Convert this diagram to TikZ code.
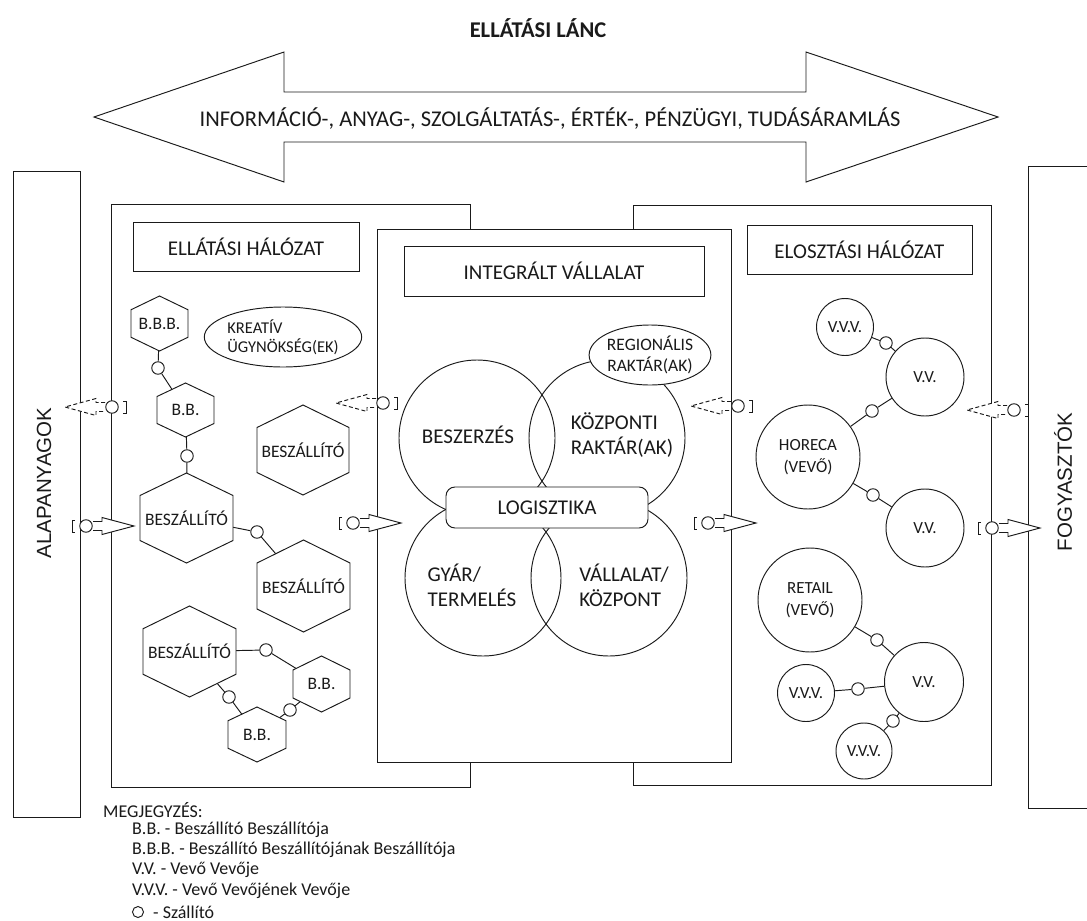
\documentclass[tikz,border=0pt]{standalone}
\usepackage{fontspec}
\setmainfont{Carlito}
\newfontfamily\arialf{Liberation Sans}
\usetikzlibrary{shapes.geometric}
\pgfdeclarelayer{paper}
\pgfdeclarelayer{back}
\pgfsetlayers{paper,back,main}
\definecolor{ink}{HTML}{1A1A1A}
\newcommand{\fsz}[2]{\fontsize{#1}{#2}\selectfont}
\tikzset{
  line/.style={draw=ink, line width=0.95pt},
  lbl/.style={text=ink, font=\fsz{21}{25}, inner sep=0pt},
  hexlbl/.style={text=ink, font=\fsz{17.5}{20}, inner sep=0pt},
  szall/.style={circle, line, fill=white, minimum size=12.5pt, inner sep=0pt},
  vcirc/.style={circle, line, fill=white, inner sep=0pt, text=ink, font=\fsz{17}{22}, align=center},
  venn/.style={circle, line, inner sep=0pt, minimum size=156pt},
  headbox/.style={rectangle, line, text=ink, font=\fsz{21}{25}, inner sep=0pt},
  legend/.style={anchor=west, text=ink, font=\fsz{18}{21}, inner sep=0pt},
  sidelbl/.style={text=ink, font=\arialf\fsz{20.5}{24}, rotate=90, inner sep=0pt},
  flowdash/.style={line, dash pattern=on 4pt off 2.5pt, fill=white},
}
% hexagon: name, x, y, w, h, text
\newcommand{\hexa}[6]{%
  \filldraw[line, fill=white] ({#2},{#3-#5/2}) -- ({#2+#4/2},{#3-#5/4}) -- ({#2+#4/2},{#3+#5/4}) -- ({#2},{#3+#5/2}) -- ({#2-#4/2},{#3+#5/4}) -- ({#2-#4/2},{#3-#5/4}) -- cycle;
  \node[hexlbl] (#1) at (#2,#3) {#6};}
% dashed flow: arrow to the left, carrier circle, closing bracket
\newcommand{\dsym}[3]{%
  \filldraw[flowdash] ({#2-7},{#3-4.5}) -- ({#2-16},{#3-4.5}) -- ({#2-16},{#3-8.5}) -- ({#2-47},{#3}) -- ({#2-16},{#3+8.5}) -- ({#2-16},{#3+4.5}) -- ({#2-7},{#3+4.5});
  \node[szall] (#1) at (#2,#3) {};
  \draw[line] ({#2+11},{#3-6}) -- ({#2+14},{#3-6}) -- ({#2+14},{#3+6}) -- ({#2+11},{#3+6});}
% solid flow: opening bracket, carrier circle, arrow to the right
\newcommand{\ssym}[3]{%
  \draw[line] ({#2-11},{#3-6}) -- ({#2-14},{#3-6}) -- ({#2-14},{#3+6}) -- ({#2-11},{#3+6});
  \node[szall] (#1) at (#2,#3) {};
  \filldraw[line, fill=white] ({#2+7},{#3-4.5}) -- ({#2+16},{#3-4.5}) -- ({#2+16},{#3-8.5}) -- ({#2+48},{#3}) -- ({#2+16},{#3+8.5}) -- ({#2+16},{#3+4.5}) -- ({#2+7},{#3+4.5});}
\begin{document}
\begin{tikzpicture}[x=1pt,y=-1pt]
\useasboundingbox (0,0) rectangle (1087,921);
\begin{pgfonlayer}{paper}
  \fill[white] (0,0) rectangle (1087,921);
\end{pgfonlayer}

% title and big double arrow
\node[text=ink, font=\bfseries\fsz{22.5}{26}] (title) at (538,28) {ELLÁTÁSI LÁNC};
\draw[line, fill=white] (94,117) -- (284,52) -- (284,92) -- (806,92) -- (806,52) -- (998,117) -- (806,182) -- (806,142) -- (284,142) -- (284,182) -- cycle;
\node[lbl, font=\fsz{22.5}{26}] (flows) at (550,119) {INFORMÁCIÓ-, ANYAG-, SZOLGÁLTATÁS-, ÉRTÉK-, PÉNZÜGYI, TUDÁSÁRAMLÁS};

% side boxes
\draw[line] (13,171) rectangle (80,817);
\node[sidelbl] (alap) at (44,483) {ALAPANYAGOK};
\draw[line] (1087,166) -- (1028,166) -- (1028,808) -- (1087,808);
\node[sidelbl] (fogy) at (1063,482) {FOGYASZTÓK};

% network frames
\draw[line] (111,204) rectangle (470,787);
\draw[line] (633,205) rectangle (991,785);
\filldraw[line, fill=white] (377,229) rectangle (731,762);

\node[headbox, minimum width=226pt, minimum height=49pt] (hsupply) at (246,246.5) {ELLÁTÁSI HÁLÓZAT};
\node[headbox, minimum width=300pt, minimum height=50pt] (hinteg) at (554,271) {INTEGRÁLT VÁLLALAT};
\node[headbox, minimum width=225pt, minimum height=49pt] (hdist) at (859.5,249.5) {ELOSZTÁSI HÁLÓZAT};

% integrated company
\node[venn] (cbesz) at (477,438) {};
\node[venn] (ckozp) at (607,438) {};
\node[venn] (cgyar) at (483,578) {};
\node[venn] (cvall) at (609,578) {};
\node[ellipse, line, fill=white, minimum width=96pt, minimum height=60pt, inner sep=0pt, text=ink, font=\fsz{17.5}{21}, align=center] (regio) at (650,355) {REGIONÁLIS\\RAKTÁR(AK)};
\node[rectangle, rounded corners=9pt, line, fill=white, minimum width=202pt, minimum height=41pt, text=ink, font=\fsz{21}{25}, inner sep=0pt] (logi) at (547,507.5) {LOGISZTIKA};
\node[lbl] (tbesz) at (468,435) {BESZERZÉS};
\node[lbl, align=left] (tkozp) at (622,435) {KÖZPONTI\\RAKTÁR(AK)};
\node[lbl, align=left] (tgyar) at (472,585) {GYÁR/\\TERMELÉS};
\node[lbl, align=left] (tvall) at (624,585) {VÁLLALAT/\\KÖZPONT};

% supply network
\node[ellipse, line, minimum width=140pt, minimum height=60pt, inner sep=0pt, text=ink, font=\fsz{16.5}{19}, align=left] (kreativ) at (283,337) {KREATÍV\\ÜGYNÖKSÉG(EK)};
\hexa{bbb}{159.5}{323.5}{57}{55}{B.B.B.}
\hexa{bba}{185.5}{410}{57}{54}{B.B.}
\hexa{bsza}{303}{450}{92}{90}{BESZÁLLÍTÓ}
\hexa{bszb}{186.5}{518}{93}{90}{BESZÁLLÍTÓ}
\hexa{bszc}{303.5}{586}{93}{92}{BESZÁLLÍTÓ}
\hexa{bszd}{189.5}{651.5}{93}{91}{BESZÁLLÍTÓ}
\hexa{bbb2}{321.5}{684}{57}{56}{B.B.}
\hexa{bbc}{257}{734.5}{58}{55}{B.B.}
\node[szall] (s1) at (158,368) {};
\node[szall] (s2) at (187,456) {};
\node[szall] (s3) at (257,532) {};
\node[szall] (s4) at (266,650) {};
\node[szall] (s5) at (229,697) {};
\node[szall] (s6) at (290,710) {};

% distribution network
\node[vcirc, minimum size=57pt] (vvva) at (845,327) {V.V.V.};
\node[vcirc, minimum size=78pt] (vva) at (925,377) {V.V.};
\node[vcirc, minimum size=104pt] (horeca) at (808,457) {HORECA\\(VEVŐ)};
\node[vcirc, minimum size=78pt] (vvb) at (925,528) {V.V.};
\node[vcirc, minimum size=104pt] (retail) at (810,600) {RETAIL\\(VEVŐ)};
\node[vcirc, minimum size=79pt] (vvc) at (924,682) {V.V.};
\node[vcirc, minimum size=57pt] (vvvb) at (806,693) {V.V.V.};
\node[vcirc, minimum size=56pt] (vvvc) at (864,751) {V.V.V.};
\node[szall] (s7) at (886,343) {};
\node[szall] (s8) at (872,411) {};
\node[szall] (s9) at (873,495) {};
\node[szall] (s10) at (877,640) {};
\node[szall] (s11) at (858,689) {};
\node[szall] (s12) at (893,721) {};

\begin{pgfonlayer}{back}
  \draw[line] (bbb) -- (s1) -- (bba);
  \draw[line] (bba) -- (s2) -- (bszb);
  \draw[line] (bszb) -- (s3) -- (bszc);
  \draw[line] (bszd) -- (s4) -- (bbb2);
  \draw[line] (bszd) -- (s5) -- (bbc);
  \draw[line] (bbb2) -- (s6) -- (bbc);
  \draw[line] (vvva) -- (s7) -- (vva);
  \draw[line] (horeca) -- (s8) -- (vva);
  \draw[line] (horeca) -- (s9) -- (vvb);
  \draw[line] (retail) -- (s10) -- (vvc);
  \draw[line] (vvvb) -- (s11) -- (vvc);
  \draw[line] (vvc) -- (s12) -- (vvvc);
\end{pgfonlayer}

% flow symbols
\dsym{fa}{112}{407}
\ssym{fb}{86}{526}
\dsym{fc}{383}{403}
\ssym{fd}{353}{523}
\dsym{fe}{738}{406}
\ssym{ff}{708}{523}
\dsym{fg}{1014}{410}
\ssym{fh}{992}{528}

% legend
\node[legend] (lg0) at (103,810) {MEGJEGYZÉS:};
\node[legend] (lg1) at (132,830) {B.B. - Beszállító Beszállítója};
\node[legend] (lg2) at (132,850) {B.B.B. - Beszállító Beszállítójának Beszállítója};
\node[legend] (lg3) at (132,870) {V.V. - Vevő Vevője};
\node[legend] (lg4) at (132,891) {V.V.V. - Vevő Vevőjének Vevője};
\node[szall, minimum size=11pt] (lgc) at (138,912) {};
\node[legend] (lg5) at (153,912) {- Szállító};
\end{tikzpicture}
\end{document}
